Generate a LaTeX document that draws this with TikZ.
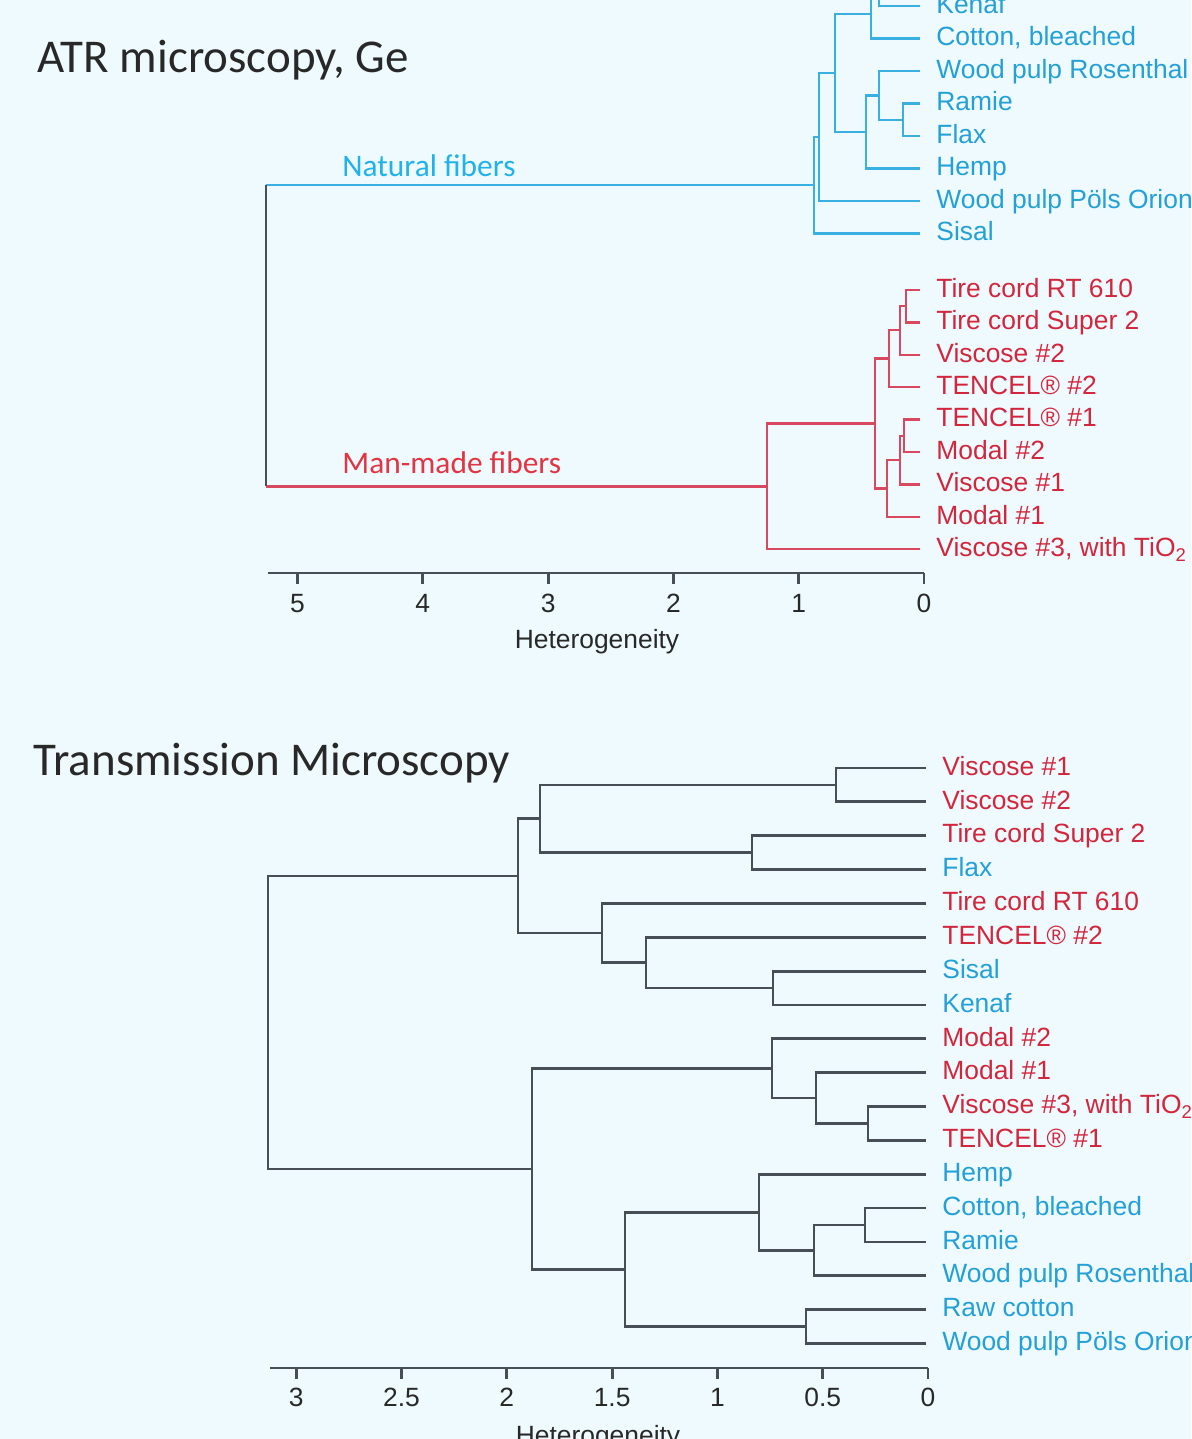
\documentclass[tikz,border=0pt]{standalone}
\usepackage{fontspec}
\setmainfont{Liberation Sans}
\newfontfamily\titlefont{Carlito}
\usepackage{tikz}
\usetikzlibrary{positioning}
\definecolor{bgcyan}{RGB}{238,250,254}
\definecolor{natblue}{RGB}{35,160,215}
\definecolor{natcol}{RGB}{58,176,226}
\definecolor{groupblue}{RGB}{34,178,234}
\definecolor{manred}{RGB}{210,38,60}
\definecolor{mancol}{RGB}{216,72,94}
\definecolor{groupred}{RGB}{226,52,66}
\definecolor{darkcol}{RGB}{72,78,86}
\definecolor{textgray}{RGB}{40,40,40}
\tikzstyle{natbr} = [draw=natcol, line width=1.2pt]
\tikzstyle{manbr} = [draw=mancol, line width=1.2pt]
\tikzstyle{darkbr} = [draw=darkcol, line width=1.4pt]
\tikzstyle{axis} = [draw=darkcol, line width=1.4pt]
\tikzstyle{leaf} = [anchor=west, inner xsep=8pt, inner ysep=0pt, text height=0.72em, text depth=0pt, font=\fontsize{13.2}{15}\selectfont]
\tikzstyle{natleaf} = [leaf, text=natblue]
\tikzstyle{manleaf} = [leaf, text=manred]
\tikzstyle{ticklbl} = [anchor=base, inner sep=0pt, text=textgray, font=\fontsize{13.2}{15}\selectfont]
\tikzstyle{title} = [anchor=base west, inner sep=0pt, text=textgray, font=\titlefont\fontsize{23.5}{28}\selectfont]
\tikzstyle{group} = [anchor=base west, inner sep=0pt, font=\titlefont\fontsize{15.7}{19}\selectfont]

\begin{document}
\begin{tikzpicture}[x=0.5pt, y=-0.5pt]
\useasboundingbox (0, 0) rectangle (1191, 1439);
\fill [bgcyan] (0, 0) rectangle (1191, 1439);
\clip (0, 0) rectangle (1191, 1439);

% ATR microscopy
\node [title] (atr) at (37, 73) {ATR microscopy, Ge};
\node [group, text=groupblue] (natg) at (342, 177) {Natural fibers};
\node [group, text=groupred] (mang) at (342, 473) {Man-made fibers};

\coordinate (rawA) at (920, -26.5);
\node [natleaf] (kenA) at (920, 6) {Kenaf};
\node [natleaf] (cotA) at (920, 38.5) {Cotton, bleached};
\node [natleaf] (rosA) at (920, 71) {Wood pulp Rosenthal};
\node [natleaf] (ramA) at (920, 103.5) {Ramie};
\node [natleaf] (flaA) at (920, 136) {Flax};
\node [natleaf] (hemA) at (920, 168.5) {Hemp};
\node [natleaf] (polA) at (920, 201) {Wood pulp Pöls Orion};
\node [natleaf] (sisA) at (920, 233.5) {Sisal};
\node [manleaf] (rtA) at (920, 290) {Tire cord RT 610};
\node [manleaf] (supA) at (920, 322.4) {Tire cord Super 2};
\node [manleaf] (vi2A) at (920, 354.8) {Viscose \#2};
\node [manleaf] (te2A) at (920, 387.2) {TENCEL® \#2};
\node [manleaf] (te1A) at (920, 419.6) {TENCEL® \#1};
\node [manleaf] (mo2A) at (920, 452) {Modal \#2};
\node [manleaf] (vi1A) at (920, 484.4) {Viscose \#1};
\node [manleaf] (mo1A) at (920, 516.8) {Modal \#1};
\node [manleaf] (vi3A) at (920, 549.2) {Viscose \#3, with TiO\textsubscript{2}};

\coordinate (b1) at (879, -10);
\coordinate (b2) at (871, 14);
\coordinate (b3) at (903, 120);
\coordinate (b4) at (879, 95.5);
\coordinate (b5) at (866, 132);
\coordinate (b6) at (835, 73);
\coordinate (b7) at (819, 137);
\coordinate (b8) at (814, 185);
\coordinate (r1) at (906, 306);
\coordinate (r2) at (900, 330);
\coordinate (r3) at (889, 358.6);
\coordinate (r4) at (904, 435.8);
\coordinate (r5) at (900, 460);
\coordinate (r6) at (887, 488.4);
\coordinate (r7) at (875, 423.5);
\coordinate (r8) at (767, 486.4);
\coordinate (rootN) at (266, 185);
\coordinate (rootM) at (266, 486.4);

\draw [natbr] (rawA) -| (b1) |- (kenA.west);
\draw [natbr] (b1) -| (b2) |- (cotA.west);
\draw [natbr] (ramA.west) -| (b3) |- (flaA.west);
\draw [natbr] (rosA.west) -| (b4) |- (b3);
\draw [natbr] (b4) -| (b5) |- (hemA.west);
\draw [natbr] (b2) -| (b6) |- (b5);
\draw [natbr] (b6) -| (b7) |- (polA.west);
\draw [natbr] (b7) -| (b8) |- (sisA.west);
\draw [natbr] (b8) -- (rootN);
\draw [manbr] (rtA.west) -| (r1) |- (supA.west);
\draw [manbr] (r1) -| (r2) |- (vi2A.west);
\draw [manbr] (r2) -| (r3) |- (te2A.west);
\draw [manbr] (te1A.west) -| (r4) |- (mo2A.west);
\draw [manbr] (r4) -| (r5) |- (vi1A.west);
\draw [manbr] (r5) -| (r6) |- (mo1A.west);
\draw [manbr] (r3) -| (r7) |- (r6);
\draw [manbr] (r7) -| (r8) |- (vi3A.west);
\draw [manbr] (r8) -- (rootM);
\draw [darkbr] (rootN) -- (rootM);

\draw [axis] (268, 573) -- (924, 573);
\foreach \v in {0,...,5} {
  \draw [axis] ({924-125.3*\v}, 573) -- ({924-125.3*\v}, 584);
  \node [ticklbl] (atrt\v) at ({924-125.3*\v}, 612.5) {\v};
}
\node [ticklbl] (atrh) at (597, 648) {Heterogeneity};

% Transmission microscopy
\node [title] (tm) at (33, 775) {Transmission Microscopy};

\node [manleaf] (vi1T) at (926, 768) {Viscose \#1};
\node [manleaf] (vi2T) at (926, 801.85) {Viscose \#2};
\node [manleaf] (supT) at (926, 835.7) {Tire cord Super 2};
\node [natleaf] (flaT) at (926, 869.55) {Flax};
\node [manleaf] (rtT) at (926, 903.4) {Tire cord RT 610};
\node [manleaf] (te2T) at (926, 937.25) {TENCEL® \#2};
\node [natleaf] (sisT) at (926, 971.1) {Sisal};
\node [natleaf] (kenT) at (926, 1004.95) {Kenaf};
\node [manleaf] (mo2T) at (926, 1038.8) {Modal \#2};
\node [manleaf] (mo1T) at (926, 1072.65) {Modal \#1};
\node [manleaf] (vi3T) at (926, 1106.5) {Viscose \#3, with TiO\textsubscript{2}};
\node [manleaf] (te1T) at (926, 1140.35) {TENCEL® \#1};
\node [natleaf] (hemT) at (926, 1174.2) {Hemp};
\node [natleaf] (cotT) at (926, 1208.05) {Cotton, bleached};
\node [natleaf] (ramT) at (926, 1241.9) {Ramie};
\node [natleaf] (rosT) at (926, 1275.75) {Wood pulp Rosenthal};
\node [natleaf] (rawT) at (926, 1309.6) {Raw cotton};
\node [natleaf] (polT) at (926, 1343.45) {Wood pulp Pöls Orion};

\coordinate (t1) at (836, 784.9);
\coordinate (t2) at (752, 852.6);
\coordinate (t3) at (540, 818.8);
\coordinate (t4) at (773, 988);
\coordinate (t5) at (646, 962.6);
\coordinate (t6) at (602, 933);
\coordinate (t7) at (518, 875.9);
\coordinate (t8) at (868, 1123.4);
\coordinate (t9) at (816, 1098);
\coordinate (t10) at (772, 1068.4);
\coordinate (t11) at (865, 1225);
\coordinate (t12) at (814, 1250.4);
\coordinate (t13) at (759, 1212.3);
\coordinate (t14) at (806, 1326.5);
\coordinate (t15) at (625, 1269.4);
\coordinate (t16) at (532, 1168.9);
\coordinate (t17) at (268, 1022.4);

\draw [darkbr] (vi1T.west) -| (t1) |- (vi2T.west);
\draw [darkbr] (supT.west) -| (t2) |- (flaT.west);
\draw [darkbr] (t1) -| (t3) |- (t2);
\draw [darkbr] (sisT.west) -| (t4) |- (kenT.west);
\draw [darkbr] (te2T.west) -| (t5) |- (t4);
\draw [darkbr] (rtT.west) -| (t6) |- (t5);
\draw [darkbr] (t3) -| (t7) |- (t6);
\draw [darkbr] (vi3T.west) -| (t8) |- (te1T.west);
\draw [darkbr] (mo1T.west) -| (t9) |- (t8);
\draw [darkbr] (mo2T.west) -| (t10) |- (t9);
\draw [darkbr] (cotT.west) -| (t11) |- (ramT.west);
\draw [darkbr] (t11) -| (t12) |- (rosT.west);
\draw [darkbr] (hemT.west) -| (t13) |- (t12);
\draw [darkbr] (rawT.west) -| (t14) |- (polT.west);
\draw [darkbr] (t13) -| (t15) |- (t14);
\draw [darkbr] (t10) -| (t16) |- (t15);
\draw [darkbr] (t7) -| (t17) |- (t16);

\draw [axis] (270, 1368) -- (928, 1368);
\foreach \v [count=\i] in {0,0.5,1,1.5,2,2.5,3} {
  \draw [axis] ({928-210.6*\v}, 1368) -- ({928-210.6*\v}, 1379);
  \node [ticklbl] (tmt\i) at ({928-210.6*\v}, 1406) {\v};
}
\node [ticklbl] (tmh) at (598, 1444.5) {Heterogeneity};
\end{tikzpicture}
\end{document}
